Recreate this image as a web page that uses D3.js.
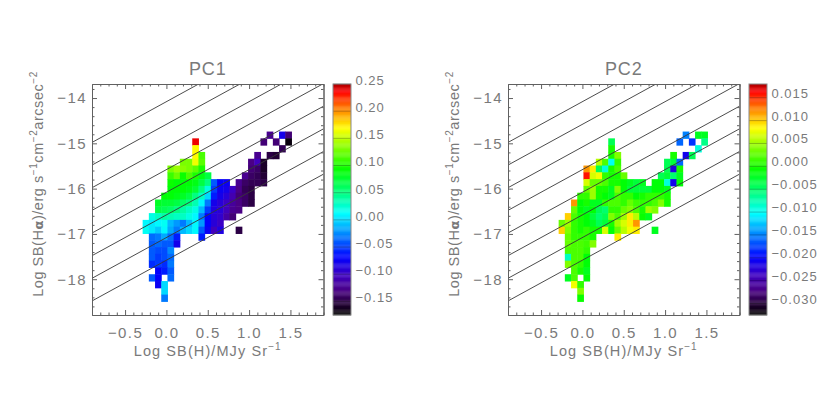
<!DOCTYPE html>
<html>
<head>
<meta charset="utf-8">
<script src="https://cdn.jsdelivr.net/npm/d3@7"></script>
<style>
    body { margin: 0; background: white; }
    text { font-family: "Liberation Sans", sans-serif; fill: #7a7a7a; }
    .tick text { font-size: 15px; letter-spacing: 1.4px; fill: #7a7a7a; }
    .bar-axis .tick text { font-size: 13px; letter-spacing: 1px; }
    .domain, .tick line { stroke: #606060; }
</style>
</head>
<body>
<div id="canvas"></div>
<script>
"use strict"

/* Bin centres of the two dimensional histograms */
const xBins = [-0.25, -0.175, -0.1, -0.025, 0.05, 0.125, 0.2, 0.275, 0.35, 0.425, 0.5, 0.575,
    0.65, 0.725, 0.8, 0.875, 0.95, 1.025, 1.1, 1.175, 1.25, 1.325, 1.4, 1.475];
const yBins = [-14.815, -14.965, -15.115, -15.265, -15.415, -15.565, -15.715, -15.865, -16.015,
    -16.165, -16.315, -16.465, -16.615, -16.765, -16.915, -17.065, -17.215, -17.365, -17.515,
    -17.665, -17.815, -17.965, -18.115, -18.265, -18.415];

const _ = null;

/* One row per yBins entry, one value per xBins entry */
const pc1Rows = [
    [_,_,_,_,_,_,_,_,_,_,_,_,_,_,_,_,_,_,_,_,-.125,_,-.08,-.135],
    [_,_,_,_,_,_,_,_,.24,_,_,_,_,_,_,_,_,_,_,-.135,_,-.135,_,-.17],
    [_,_,_,_,_,_,_,_,.17,_,_,_,_,_,_,_,_,_,_,_,_,_,-.145],
    [_,_,_,_,_,_,_,_,.17,.115,_,_,_,_,_,_,_,_,-.125,_,-.15,-.155],
    [_,_,_,_,_,_,.13,.13,.165,.12,_,_,_,_,_,_,_,-.13,-.105,-.16],
    [_,_,_,_,.13,.14,.135,.13,.12,.10,_,_,_,_,_,_,_,-.135,-.14,-.16],
    [_,_,_,_,.11,.125,.095,.115,.10,.085,.07,_,_,_,_,_,-.125,-.14,-.145,-.155],
    [_,_,_,_,.095,.09,.09,.09,.085,.07,.05,-.04,-.07,-.075,_,-.125,-.14,-.145,-.145,-.15],
    [_,_,_,_,.09,.09,.09,.085,.075,.05,.02,-.05,-.075,-.08,-.1,-.13,-.145,-.15],
    [_,_,_,.09,.09,.085,.08,.07,.05,.03,0,-.06,-.08,-.09,-.11,-.135,-.14,-.15],
    [_,_,.08,.075,.075,.07,.06,.05,.035,.01,-.03,-.08,-.09,-.1,-.12,-.13,-.14,-.15],
    [_,_,.07,.065,.06,.05,.04,.03,.02,-.01,-.05,-.085,-.09,-.105,-.125,-.13],
    [_,.02,.03,.04,.035,.03,.03,.02,.01,-.03,-.07,-.09,-.095,-.115,-.135],
    [.01,.005,.01,.015,-.01,-.02,-.03,-.01,.01,-.02,-.07,-.09,-.1],
    [.015,.005,-.005,.01,-.015,-.03,-.01,0,.01,-.04,-.075,-.105,-.085,_,_,-.15],
    [_,-.035,-.03,-.015,-.035,-.06,_,_,_,-.06],
    [_,-.04,-.035,-.04,-.04,-.08],
    [_,-.04,-.045,-.045,-.025],
    [_,-.04,-.05,-.045,-.035],
    [_,-.055,-.05,-.055,-.03],
    [_,_,-.07,-.06,-.04],
    [_,-.04,-.07,_,-.035],
    [_,_,-.075,0],
    [_,_,_,0],
    [_,_,_,-.03]
];

const pc2Rows = [
    [_,_,_,_,_,_,_,_,_,_,_,_,_,_,_,_,_,_,_,_,-.015,_,-.002,-.002],
    [_,_,_,_,_,_,_,_,-.004,_,_,_,_,_,_,_,_,_,_,-.016,_,-.018,_,-.006],
    [_,_,_,_,_,_,_,_,0,_,_,_,_,_,_,_,_,_,_,_,_,_,-.009],
    [_,_,_,_,_,_,_,_,0,.004,_,_,_,_,_,_,_,_,0,_,-.021,-.004],
    [_,_,_,_,_,_,.006,.002,-.01,.001,_,_,_,_,_,_,_,-.004,-.003,-.016],
    [_,_,_,_,.012,.009,-.004,-.009,0,.002,_,_,_,_,_,_,_,-.004,-.022,0],
    [_,_,_,_,.016,.007,.008,.001,0,0,.003,_,_,_,_,_,-.004,-.003,-.005,-.002],
    [_,_,_,_,.007,.003,.003,.002,0,0,-.001,-.002,-.003,-.002,_,-.001,-.001,-.009,-.021,-.001],
    [_,_,_,_,.003,.005,0,0,-.002,.004,-.001,-.003,-.003,-.003,-.003,-.001,-.001,-.002],
    [_,_,_,.001,.001,.005,0,-.001,-.002,.002,.001,.001,-.001,0,.001,.001,.001,0],
    [_,_,.012,-.001,0,-.002,-.002,.001,.002,.002,.001,.003,.0015,.001,.001,.002,.004,0],
    [_,_,.003,-.001,-.002,-.001,-.004,-.005,.001,.001,.003,.004,.002,0,.005,.004],
    [_,.01,.002,0,-.001,-.003,-.005,-.004,.004,.002,.005,.009,.006,-.0005,-.002],
    [.003,.005,.001,0,-.001,-.002,-.004,-.003,0,.005,.007,.009,.012],
    [.01,.004,.001,0,.001,0,0,.007,-.001,.003,.006,.008,.009,_,_,-.002],
    [_,.003,.001,.001,.001,0,_,_,_,.009],
    [_,.003,.002,.002,.0015,.004],
    [_,.002,.002,.002,.001],
    [_,-.008,.002,.002,-.001],
    [_,.004,.002,.001,-.001],
    [_,_,.002,0,-.002],
    [_,-.002,.002,_,-.001],
    [_,_,.008,.001],
    [_,_,_,.004],
    [_,_,_,-.0005]
];

/* Tick values */
const xTicks = [-0.5, 0, 0.5, 1, 1.5];
const xMinorTicks = [-0.8, -0.7, -0.6, -0.4, -0.3, -0.2, -0.1, 0.1, 0.2, 0.3, 0.4, 0.6, 0.7, 0.8, 0.9,
    1.1, 1.2, 1.3, 1.4, 1.6, 1.7, 1.8, 1.9];
const yTicks = [-14, -15, -16, -17, -18];
const yMinorTicks = [-13.8, -14.2, -14.4, -14.6, -14.8, -15.2, -15.4, -15.6, -15.8, -16.2, -16.4, -16.6,
    -16.8, -17.2, -17.4, -17.6, -17.8, -18.2, -18.4, -18.6];
const pc1BarTicks = [0.25, 0.2, 0.15, 0.1, 0.05, 0, -0.05, -0.1, -0.15];
const pc2BarTicks = [0.015, 0.01, 0.005, 0, -0.005, -0.01, -0.015, -0.02, -0.025, -0.03];

/* Constant ratio lines: y = x + offset */
const lineOffsets = [-14.08, -14.58, -15.08, -15.58, -16.08, -16.58, -17.08, -17.58];

/* Colour table, position 0 is the bottom of the colour bar */
const colourStops = [0, 0.043, 0.106, 0.17, 0.25, 0.346, 0.44, 0.53, 0.628, 0.723, 0.81, 0.896, 0.97, 1];
const colourValues = ["#000000", "#200030", "#4a0085", "#4000c0", "#0000ff", "#0080ff", "#00ffff",
    "#00ff80", "#00ff00", "#80ff00", "#ffff00", "#ff8000", "#ff0000", "#b00000"];

/* Configuration variables: drawing */
const svgWidth = 830;
const svgHeight = 415;
const plotLeft = 92;
const plotRight = 323.5;
const plotTop = 84;
const plotBottom = 315;
const barLeft = 333;
const barRight = 351;
const panelShift = 416;

const svg = d3.select("#canvas")
    .append("svg")
    .attr("width", svgWidth)
    .attr("height", svgHeight)
    .style("display", "block");

const xScale = d3.scaleLinear()
    .domain([-0.9, 1.9])
    .range([plotLeft, plotRight]);

const yScale = d3.scaleLinear()
    .domain([-13.69, -18.79])
    .range([plotTop, plotBottom]);

const colourScale = d3.scaleLinear()
    .domain(colourStops)
    .range(colourValues);

svg.append("clipPath")
    .attr("id", "plotClip")
    .append("rect")
    .attr("x", plotLeft)
    .attr("y", plotTop)
    .attr("width", plotRight - plotLeft)
    .attr("height", plotBottom - plotTop);

const lineMaker = d3.line()
    .x(function (d) { return xScale(d[0]); })
    .y(function (d) { return yScale(d[1]); });

function drawPanel(shift, title, rows, barDomain, barTicks, barFormat, barLabelShift) {
    let panel = svg.append("g")
        .attr("transform", "translate(" + shift + ",0)");

    let barScale = d3.scaleLinear()
        .domain(barDomain)
        .range([plotBottom, plotTop]);

    let fraction = d3.scaleLinear()
        .domain(barDomain)
        .range([0, 1]);

    /* histogram cells */
    let binWidth = xScale(0.075) - xScale(0);
    let binHeight = yScale(-0.15) - yScale(0);
    let cells = [];
    rows.forEach(function (row, r) {
        row.forEach(function (value, c) {
            if (value !== null) {
                cells.push({ x: xBins[c], y: yBins[r], value: value });
            }
        });
    });

    panel.selectAll(".cell")
        .data(cells)
        .join("rect")
        .attr("class", "cell")
        .attr("x", function (d) { return xScale(d.x) - binWidth / 2; })
        .attr("y", function (d) { return yScale(d.y) - binHeight / 2; })
        .attr("width", binWidth + 0.5)
        .attr("height", binHeight + 0.5)
        .attr("fill", function (d) { return colourScale(fraction(d.value)); });

    /* diagonal lines */
    panel.append("g")
        .attr("clip-path", "url(#plotClip)")
        .selectAll("path")
        .data(lineOffsets)
        .join("path")
        .attr("d", function (offset) {
            return lineMaker(xScale.domain().map(function (x) { return [x, x + offset]; }));
        })
        .attr("fill", "none")
        .attr("stroke", "#383838")
        .attr("stroke-width", 0.9);

    /* axes, ticks on the inside on all four sides */
    let fmtX = d3.format(".1f");
    let fmtY = d3.format("d");

    panel.append("g")
        .attr("transform", "translate(0," + plotBottom + ")")
        .call(d3.axisBottom(xScale).tickValues(xTicks).tickSize(-5).tickSizeOuter(0).tickPadding(12).tickFormat(fmtX));
    panel.append("g")
        .attr("transform", "translate(0," + plotBottom + ")")
        .call(d3.axisBottom(xScale).tickValues(xMinorTicks).tickSize(-2.5).tickSizeOuter(0).tickFormat(""));
    panel.append("g")
        .attr("transform", "translate(0," + plotTop + ")")
        .call(d3.axisTop(xScale).tickValues(xTicks).tickSize(-5).tickSizeOuter(0).tickFormat(""));
    panel.append("g")
        .attr("transform", "translate(0," + plotTop + ")")
        .call(d3.axisTop(xScale).tickValues(xMinorTicks).tickSize(-2.5).tickSizeOuter(0).tickFormat(""));
    panel.append("g")
        .attr("transform", "translate(" + plotLeft + ",0)")
        .call(d3.axisLeft(yScale).tickValues(yTicks).tickSize(-5).tickSizeOuter(0).tickPadding(5).tickFormat(fmtY));
    panel.append("g")
        .attr("transform", "translate(" + plotLeft + ",0)")
        .call(d3.axisLeft(yScale).tickValues(yMinorTicks).tickSize(-2.5).tickSizeOuter(0).tickFormat(""));
    panel.append("g")
        .attr("transform", "translate(" + plotRight + ",0)")
        .call(d3.axisRight(yScale).tickValues(yTicks).tickSize(-5).tickSizeOuter(0).tickFormat(""));
    panel.append("g")
        .attr("transform", "translate(" + plotRight + ",0)")
        .call(d3.axisRight(yScale).tickValues(yMinorTicks).tickSize(-2.5).tickSizeOuter(0).tickFormat(""));

    panel.selectAll(".tick line, .domain").attr("stroke", "#606060");

    /* title */
    panel.append("text")
        .attr("x", (plotLeft + plotRight) / 2)
        .attr("y", 75)
        .attr("text-anchor", "middle")
        .style("font-size", "18px")
        .style("letter-spacing", "0.8px")
        .text(title);

    /* x label */
    let xLabel = panel.append("text")
        .attr("x", (plotLeft + plotRight) / 2)
        .attr("y", 356)
        .attr("text-anchor", "middle")
        .style("font-size", "14.5px")
        .style("letter-spacing", "1.1px");
    xLabel.append("tspan").text("Log SB(H)/MJy Sr");
    xLabel.append("tspan").attr("dy", -6).style("font-size", "10px").text("\u22121");

    /* y label */
    let yLabel = panel.append("text")
        .attr("transform", "translate(43," + ((plotTop + plotBottom) / 2 - 15.5) + ") rotate(-90)")
        .attr("text-anchor", "middle")
        .style("font-size", "14.5px")
        .style("letter-spacing", "0.55px");
    yLabel.append("tspan").text("Log SB(H");
    yLabel.append("tspan").style("font-family", "'DejaVu Sans'").style("font-weight", "bold").style("font-size", "13px").text("\u03b1");
    yLabel.append("tspan").text(")/erg s");
    yLabel.append("tspan").attr("dy", -6).style("font-size", "10px").text("\u22121");
    yLabel.append("tspan").attr("dy", 6).text("cm");
    yLabel.append("tspan").attr("dy", -6).style("font-size", "10px").text("\u22122");
    yLabel.append("tspan").attr("dy", 6).text("arcsec");
    yLabel.append("tspan").attr("dy", -6).style("font-size", "10px").text("\u22122");

    /* colour bar, one strip per table level */
    let levels = d3.range(0, 256);
    let stripHeight = (plotBottom - plotTop) / levels.length;
    panel.selectAll(".strip")
        .data(levels)
        .join("rect")
        .attr("class", "strip")
        .attr("x", barLeft)
        .attr("y", function (level) { return plotBottom - (level + 1) * stripHeight; })
        .attr("width", barRight - barLeft)
        .attr("height", stripHeight + 0.3)
        .attr("fill", function (level) { return colourScale(level / 255); });

    panel.append("g")
        .attr("class", "bar-axis")
        .attr("transform", "translate(" + barRight + ",0)")
        .call(d3.axisRight(barScale).tickValues(barTicks).tickSize(0).tickPadding(4.5).tickFormat(barFormat))
        .call(function (g) { g.select(".domain").remove(); })
        .selectAll("text")
        .attr("y", barLabelShift);

    /* darker marks across the bar at each labelled value */
    panel.selectAll(".bar-mark")
        .data(barTicks)
        .join("line")
        .attr("class", "bar-mark")
        .attr("x1", barLeft)
        .attr("x2", barRight)
        .attr("y1", function (d) { return barScale(d); })
        .attr("y2", function (d) { return barScale(d); })
        .attr("stroke", "black")
        .attr("stroke-opacity", 0.25);

    panel.append("rect")
        .attr("x", barLeft)
        .attr("y", plotTop)
        .attr("width", barRight - barLeft)
        .attr("height", plotBottom - plotTop)
        .attr("fill", "none")
        .attr("stroke", "#8a8a8a");
}

drawPanel(0, "PC1", pc1Rows, [-0.175, 0.25], pc1BarTicks, d3.format(".2f"), -3.7);
drawPanel(panelShift, "PC2", pc2Rows, [-0.0325, 0.018], pc2BarTicks, d3.format(".3f"), -4.7);
</script>
</body>
</html>
